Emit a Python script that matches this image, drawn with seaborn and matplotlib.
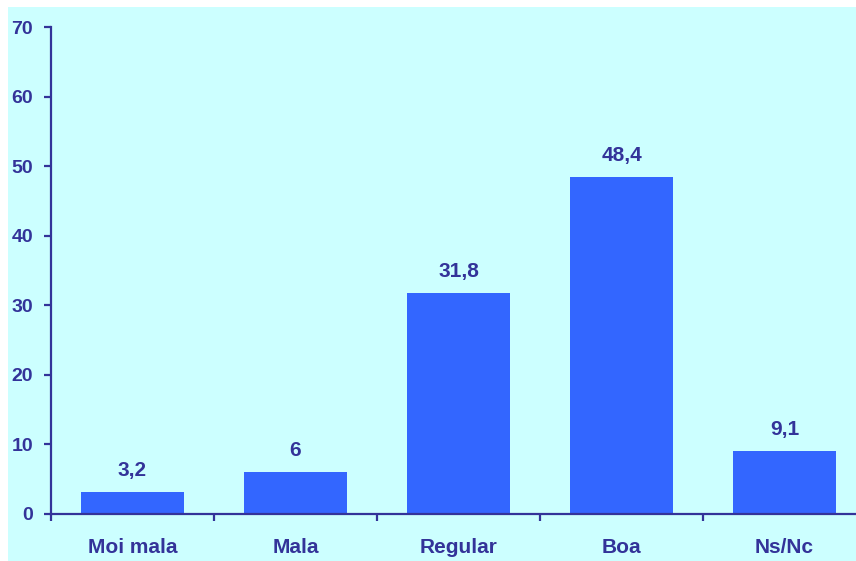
import seaborn as sns
import pandas as pd
import matplotlib.pyplot as plt
from matplotlib.patches import Rectangle

categories = ["Moi mala", "Mala", "Regular", "Boa", "Ns/Nc"]
values = [3.2, 6, 31.8, 48.4, 9.1]
value_labels = ["3,2", "6", "31,8", "48,4", "9,1"]
y_ticks = [0, 10, 20, 30, 40, 50, 60, 70]

navy = "#333399"
bar_blue = "#3366FF"
bg = "#CCFFFF"

sns.set_theme(style="white")
plt.rcParams["font.family"] = ["Liberation Sans", "DejaVu Sans"]
plt.rcParams["font.weight"] = "bold"

df = pd.DataFrame({"category": categories, "value": values})

fig = plt.figure(figsize=(8.56, 5.61), dpi=100, facecolor="white")
fig.patches.append(
    Rectangle((8 / 856, 0), 1, 1 - 7 / 561, transform=fig.transFigure,
              facecolor=bg, edgecolor="none", zorder=-10)
)
ax = fig.add_axes([51 / 856, 47 / 561, 815 / 856, 487 / 561])
ax.set_facecolor("none")

sns.barplot(data=df, x="category", y="value", color=bar_blue, saturation=1,
            width=0.63, linewidth=0, ax=ax)

ax.set_xlim(-0.5, 4.5)
ax.set_ylim(0, 70)
ax.set_yticks(y_ticks)
ax.set_xlabel("")
ax.set_ylabel("")

# value labels above the bars
for i, (v, lab) in enumerate(zip(values, value_labels)):
    ax.annotate(lab, (i, v), xytext=(0, 11.5), textcoords="offset points",
                ha="center", va="baseline", fontsize=15, fontweight="bold",
                color=navy)

# styling
for side in ["top", "right"]:
    ax.spines[side].set_visible(False)
for side in ["left", "bottom"]:
    ax.spines[side].set_color(navy)
    ax.spines[side].set_linewidth(1.6)

ax.set_xticks([-0.5, 0.5, 1.5, 2.5, 3.5, 4.5], minor=False)
ax.set_xticklabels([])
ax.set_xticks(range(len(categories)), minor=True)
ax.set_xticklabels(categories, minor=True)

ax.tick_params(axis="x", which="major", direction="out", length=5, width=1.6,
               color=navy, bottom=True)
ax.tick_params(axis="x", which="minor", length=0, pad=17, labelsize=15,
               labelcolor=navy)
ax.tick_params(axis="y", direction="out", length=5, width=1.6, color=navy,
               left=True, pad=8, labelsize=14, labelcolor=navy)
for t in ax.get_xticklabels(minor=True) + ax.get_yticklabels():
    t.set_fontweight("bold")

fig.savefig("out.png", dpi=100)
